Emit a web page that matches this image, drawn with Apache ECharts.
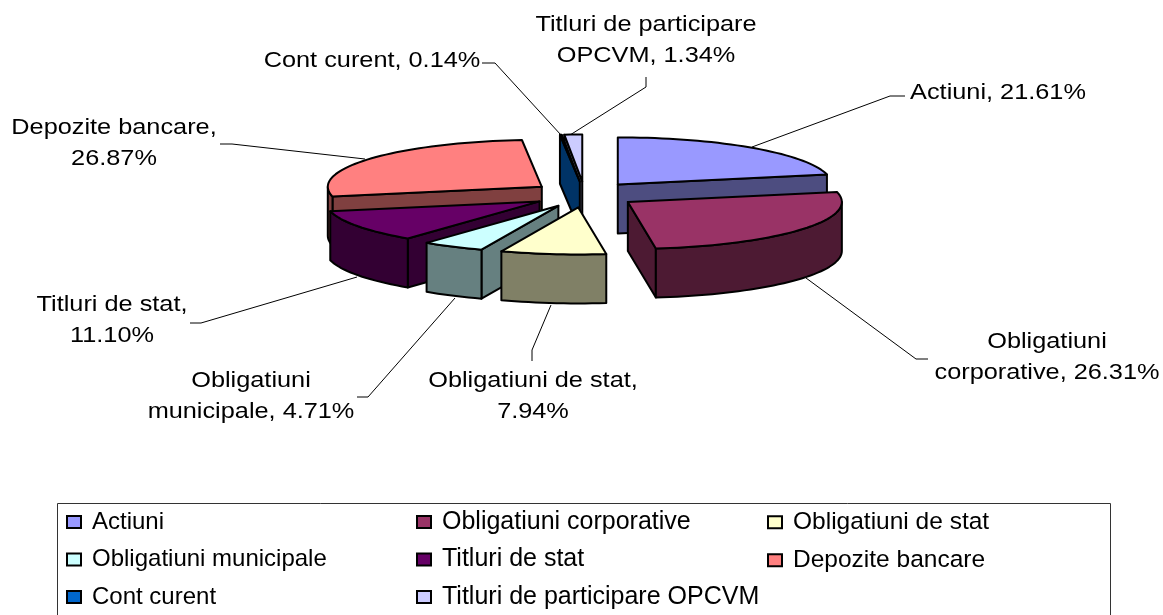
<!DOCTYPE html>
<html>
<head>
<meta charset="utf-8">
<title>Structura activelor</title>
<style>
    html,body{margin:0;padding:0;background:#fff;}
    #chart{width:1163px;height:615px;}
</style>
<script src="https://cdn.jsdelivr.net/npm/echarts@6/dist/echarts.min.js"></script>
</head>
<body>
<div id="chart"></div>
<script>
// date
var categories = ['Actiuni','Obligatiuni corporative','Obligatiuni de stat','Obligatiuni municipale','Titluri de stat','Depozite bancare','Cont curent','Titluri de participare OPCVM'];
var percents = [21.61,26.31,7.94,4.71,11.10,26.87,0.14,1.34];
var labelTexts = ['Actiuni, 21.61%','Obligatiuni\ncorporative, 26.31%','Obligatiuni de stat,\n7.94%','Obligatiuni\nmunicipale, 4.71%','Titluri de stat,\n11.10%','Depozite bancare,\n26.87%','Cont curent, 0.14%','Titluri de participare\nOPCVM, 1.34%'];

// culori
var topColors = ['#9999FF','#993366','#FFFFCC','#CCFFFF','#660066','#FF8080','#0066CC','#CCCCFF'];
var sideColors = ['#4D4D80','#4D1A33','#808066','#668080','#330033','#804040','#003366','#666680'];

// geometria pie-ului 3D
var pieX = 584.5, pieY = 194.5;   // centru
var radiusX = 214, radiusY = 47; // elipsa
var depth = 49;                 // inaltime felie
var explodeX = 53, explodeY = 13;
var drawOrder = [5,7,6,0,4,3,2,1]; // din spate spre fata

// pozitia etichetelor si liniile de legatura
var labelPos = [[998,93],[1047,357],[533,396],[251,396],[112,320],[114,143],[372,61],[646,40]];
var leaderLines = [
    [[905,96],[890,96],[752,147]],
    [[928,359],[916,359],[806,278]],
    [[532,361],[532,350],[551,305]],
    [[357,397],[368,397],[455,298]],
    [[190,323],[201,323],[357,277]],
    [[220,144],[232,144],[365,159]],
    [[482,63],[495,63],[561,135]],
    [[646,77],[646,87],[570,135]]
];
var textFont = '"Liberation Sans", Arial, sans-serif';

var total = 0;
for(var i=0;i<percents.length;i++){ total += percents[i]; }
var startAngles = [], endAngles = [];
var sum = 0;
for(var i=0;i<percents.length;i++){
    startAngles.push(sum/total*360);
    sum += percents[i];
    endAngles.push(sum/total*360);
}

function rad(d){ return d*Math.PI/180; }

function rimPoint(ax,ay,angle,dy){
    return [ax+radiusX*Math.sin(rad(angle)), ay-radiusY*Math.cos(rad(angle))+(dy||0)];
}

function arcPoints(ax,ay,a0,a1,dy){
    var pts = [];
    var n = Math.max(2,Math.ceil((a1-a0)/2));
    for(var k=0;k<=n;k++){
        pts.push(rimPoint(ax,ay,a0+(a1-a0)*k/n,dy));
    }
    return pts;
}

function face(points,fill){
    return {
        type:'polygon',
        shape:{points:points},
        style:{fill:fill,stroke:'#000',lineWidth:2,lineJoin:'round'}
    };
}

function radialWall(ax,ay,angle,fill){
    var p = rimPoint(ax,ay,angle);
    return face([[ax,ay],p,[p[0],p[1]+depth],[ax,ay+depth]],fill);
}

function sliceItem(idx){
    var a0 = startAngles[idx], a1 = endAngles[idx];
    var mid = rad((a0+a1)/2);
    var ax = pieX+explodeX*Math.sin(mid);
    var ay = pieY-explodeY*Math.cos(mid);
    var children = [];
    // peretii radiali, doar cei care se vad
    if(Math.sin(rad(a0))<0){ children.push(radialWall(ax,ay,a0,sideColors[idx])); }
    if(Math.sin(rad(a1))>0){ children.push(radialWall(ax,ay,a1,sideColors[idx])); }
    // peretele exterior, jumatatea din fata a elipsei
    var w0 = Math.max(a0,90), w1 = Math.min(a1,270);
    if(w1>w0){
        var upper = arcPoints(ax,ay,w0,w1,0);
        var lower = arcPoints(ax,ay,w0,w1,depth).reverse();
        children.push(face(upper.concat(lower),sideColors[idx]));
    }
    // fata de sus
    children.push(face([[ax,ay]].concat(arcPoints(ax,ay,a0,a1,0)),topColors[idx]));
    return {type:'group',children:children};
}

var series = [];
for(var i=0;i<drawOrder.length;i++){
    (function(idx){
        series.push({
            type:'custom',
            name:categories[idx],
            coordinateSystem:'none',
            silent:true,
            animation:false,
            itemStyle:{color:topColors[idx],borderColor:'#000',borderWidth:2},
            data:[[percents[idx]]],
            renderItem:function(){ return sliceItem(idx); }
        });
    })(drawOrder[i]);
}

function legendColumn(left,names,size){
    return {
        orient:'vertical',
        left:left,
        top:522-size/2,
        padding:0,
        itemGap:37.5-size,
        itemWidth:14,
        itemHeight:12,
        selectedMode:false,
        icon:'rect',
        data:names,
        textStyle:{fontFamily:textFont,fontSize:size,color:'#000',padding:[0,0,0,6]}
    };
}

var graphics = [{
    type:'rect',
    z:-1,
    shape:{x:57.5,y:503.5,width:1053,height:120},
    style:{fill:'#fff',stroke:'#333',lineWidth:1}
}];
for(var i=0;i<leaderLines.length;i++){
    graphics.push({
        type:'polyline',
        shape:{points:leaderLines[i]},
        style:{fill:'none',stroke:'#000',lineWidth:1}
    });
    graphics.push({
        type:'text',
        x:labelPos[i][0],
        y:labelPos[i][1],
        scaleX:1.15,
        style:{
            text:labelTexts[i],
            x:0,y:0,
            align:'center',
            verticalAlign:'middle',
            lineHeight:31,
            font:'22px '+textFont,
            fill:'#000'
        }
    });
}

var myChart = echarts.init(document.getElementById('chart'));
myChart.setOption({
    backgroundColor:'#fff',
    animation:false,
    tooltip:{show:false},
    legend:[
        legendColumn(66,[categories[0],categories[3],categories[6]],24),
        legendColumn(416,[categories[1],categories[4],categories[7]],25),
        legendColumn(767,[categories[2],categories[5]],24.5)
    ],
    graphic:graphics,
    series:series
});
</script>
</body>
</html>
